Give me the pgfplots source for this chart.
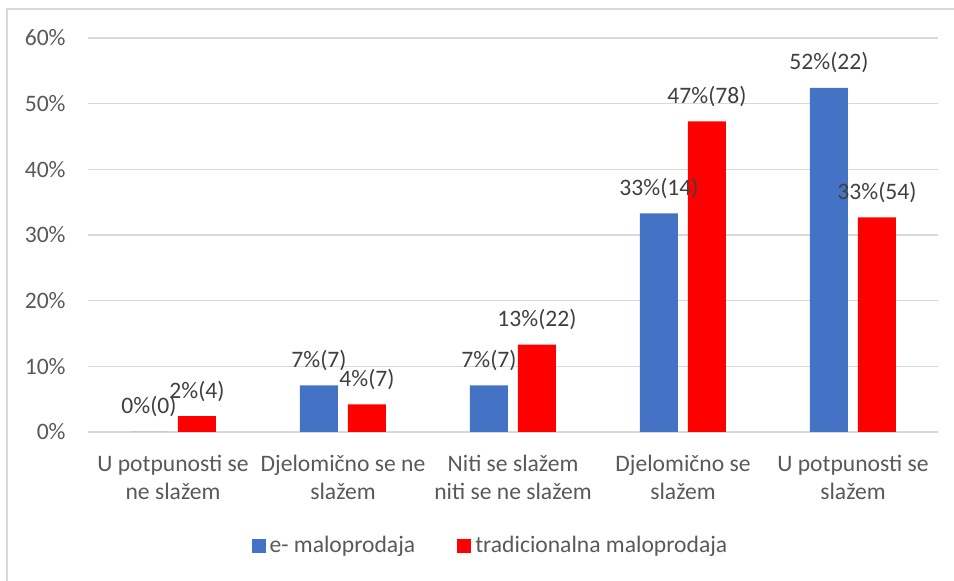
\documentclass[border=0pt]{standalone}
\usepackage{fontspec}
\setmainfont{Carlito}
\usepackage{pgfplots}
\pgfplotsset{compat=1.18}
\definecolor{eblue}{HTML}{4472C4}
\definecolor{tred}{HTML}{FF0000}
\definecolor{gridc}{HTML}{D9D9D9}
\definecolor{tickc}{HTML}{595959}
\definecolor{labc}{HTML}{404040}
\begin{document}
\begin{tikzpicture}[font=\fontsize{11.8}{14}\selectfont]
\useasboundingbox (0,0) rectangle (477pt,-290.5pt);
\draw[gridc, line width=0.6pt] (3.5pt,-300pt) -- (3.5pt,-4.5pt) -- (490pt,-4.5pt);
\begin{axis}[
  at={(44pt,-216pt)}, anchor=south west,
  scale only axis, width=425pt, height=197pt,
  ybar=5pt, bar width=19pt,
  xmin=-0.5, xmax=4.5, ymin=0, ymax=60,
  axis line style={draw=none},
  major tick length=0pt,
  ymajorgrids, grid style={gridc, line width=0.6pt},
  xtick={0,...,4},
  xticklabels={{U potpunosti se\\ne slažem},{Djelomično se ne\\slažem},{Niti se slažem\\niti se ne slažem},{Djelomično se\\slažem},{U potpunosti se\\slažem}},
  xticklabel style={align=center, inner sep=0pt, yshift=-11.5pt, text=tickc},
  ytick={0,10,...,60},
  yticklabels={0\%,10\%,20\%,30\%,40\%,50\%,60\%},
  yticklabel style={inner sep=0pt, xshift=-11pt, text=tickc},
  nodes near coords, point meta=explicit symbolic,
  every node near coord/.append style={anchor=center, yshift=12.5pt, text=labc, inner sep=0pt},
  legend style={at={(0.4747,-0.2893)}, anchor=center, draw=none, fill=none, legend columns=2, /tikz/every even column/.append style={column sep=19pt}, text=tickc},
  legend image code/.code={\fill[#1] (0pt,-3.5pt) rectangle (7pt,3.5pt);},
]
\addplot[fill=eblue, draw=none] coordinates {(0,0) [0\%(0)] (1,7.1) [7\%(7)] (2,7.1) [7\%(7)] (3,33.3) [33\%(14)] (4,52.4) [52\%(22)]};
\addplot[fill=tred, draw=none] coordinates {(0,2.4) [2\%(4)] (1,4.2) [4\%(7)] (2,13.3) [13\%(22)] (3,47.3) [47\%(78)] (4,32.7) [33\%(54)]};
\legend{e- maloprodaja, tradicionalna maloprodaja}
\end{axis}
\end{tikzpicture}
\end{document}
